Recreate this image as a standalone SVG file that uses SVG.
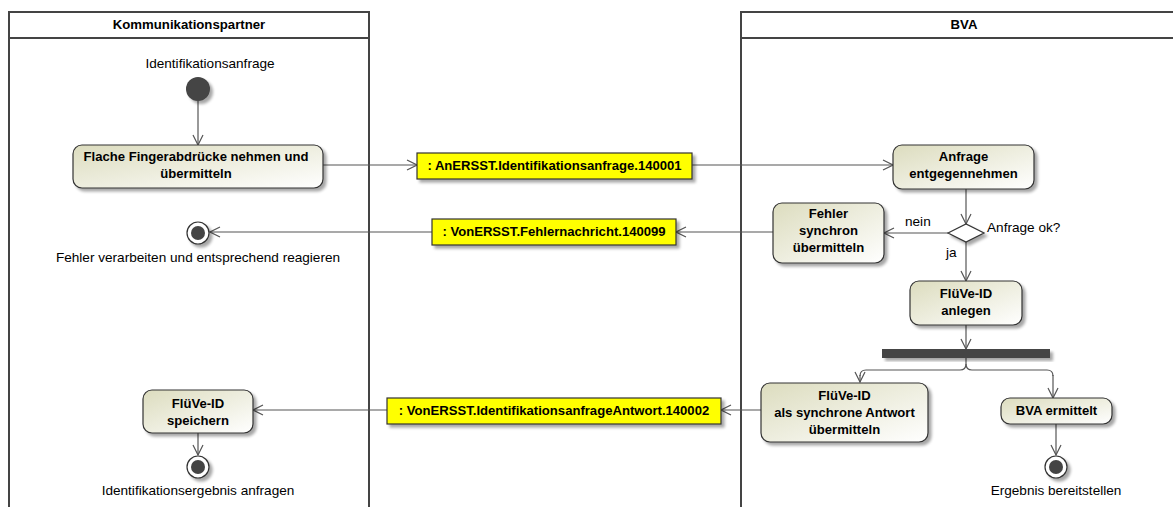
<svg xmlns="http://www.w3.org/2000/svg" width="1173" height="507" viewBox="0 0 1173 507">
<style>
.lane{fill:none;stroke:#444;stroke-width:2}
.hdr{font-family:"Liberation Sans",Arial,sans-serif;font-size:13.2px;font-weight:bold;fill:#000;text-anchor:middle}
.act{fill:url(#g);stroke:#333;stroke-width:1.2;filter:url(#sh)}
.at{font-family:"Liberation Sans",Arial,sans-serif;font-size:13.1px;font-weight:bold;fill:#000;text-anchor:middle}
.obj{fill:#FFFF00;stroke:#333;stroke-width:1.2;filter:url(#sh)}
.lbl{font-family:"Liberation Sans",Arial,sans-serif;font-size:13.6px;fill:#000}
.c{fill:none;stroke:#555;stroke-width:1.2}
.ca{fill:none;stroke:#555;stroke-width:1.2;marker-end:url(#ah)}
</style>
<defs>
<linearGradient id="g" x1="0" y1="0" x2="1" y2="1">
<stop offset="0" stop-color="#DCDCBE"/>
<stop offset="1" stop-color="#FFFFFF"/>
</linearGradient>
<filter id="sh" x="-20%" y="-20%" width="150%" height="160%">
<feGaussianBlur in="SourceAlpha" stdDeviation="1.5"/>
<feOffset dx="3" dy="3" result="b"/>
<feComponentTransfer><feFuncA type="linear" slope="0.35"/></feComponentTransfer>
<feMerge><feMergeNode/><feMergeNode in="SourceGraphic"/></feMerge>
</filter>
<marker id="ah" viewBox="0 0 12 12" refX="11" refY="6" markerWidth="12" markerHeight="12" markerUnits="userSpaceOnUse" orient="auto">
<path d="M1,1 L11,6 L1,11" fill="none" stroke="#555" stroke-width="1.2"/>
</marker>
</defs>

<g id="lane-kommunikationspartner">
<path class="lane" d="M9,507 L9,12 L369,12 L369,507"/>
<line class="lane" x1="9" y1="38" x2="369" y2="38"/>
<text class="hdr" x="189" y="29">Kommunikationspartner</text>
</g>
<g id="lane-bva">
<path class="lane" d="M741,507 L741,12 L1175,12"/>
<line class="lane" x1="741" y1="38" x2="1175" y2="38"/>
<text class="hdr" x="964" y="29">BVA</text>
</g>

<g id="connectors">
<line class="ca" x1="198" y1="101" x2="198" y2="145"/>
<line class="ca" x1="323" y1="165" x2="417" y2="165"/>
<line class="ca" x1="692" y1="165" x2="893" y2="165"/>
<line class="ca" x1="966" y1="189" x2="966" y2="224"/>
<line class="ca" x1="948" y1="233" x2="884" y2="233"/>
<line class="ca" x1="773" y1="232" x2="676" y2="232"/>
<line class="ca" x1="432" y1="232" x2="210" y2="232"/>
<line class="ca" x1="966" y1="242" x2="966" y2="281"/>
<line class="ca" x1="966" y1="325" x2="966" y2="349"/>
<path class="c" d="M966,358 L966,364 Q966,370 960,370 L866,370 Q860,370 860,376"/>
<path class="ca" d="M860,375 L860,382"/>
<path class="c" d="M966,364 Q966,370 972,370 L1047,370 Q1053,370 1053,376"/>
<path class="ca" d="M1053,375 L1053,398"/>
<line class="ca" x1="761" y1="410" x2="721" y2="410"/>
<line class="ca" x1="387" y1="410" x2="253" y2="410"/>
<line class="ca" x1="198" y1="433" x2="198" y2="455"/>
<line class="ca" x1="1056" y1="424" x2="1056" y2="455"/>
</g>

<g id="start">
<circle cx="198" cy="89" r="12" fill="#444" filter="url(#sh)"/>
<text class="lbl" x="210" y="68" text-anchor="middle">Identifikationsanfrage</text>
</g>

<g id="flache">
<rect class="act" x="73" y="145" width="250" height="43" rx="9"/>
<text class="at" x="196" y="161">Flache Fingerabdrücke nehmen und</text>
<text class="at" x="196" y="178">übermitteln</text>
</g>

<g id="obj-anfrage">
<rect class="obj" x="417" y="153" width="275" height="26"/>
<text class="at" x="554.5" y="170">: AnERSST.Identifikationsanfrage.140001</text>
</g>

<g id="anfrage-entgegennehmen">
<rect class="act" x="893" y="145" width="141" height="44" rx="9"/>
<text class="at" x="963.5" y="161">Anfrage</text>
<text class="at" x="963.5" y="178">entgegennehmen</text>
</g>

<g id="decision">
<path d="M948,233 L966,224 L984,233 L966,242 Z" fill="#fff" stroke="#333" stroke-width="1.2" filter="url(#sh)"/>
<text class="lbl" x="987" y="232">Anfrage ok?</text>
<text class="lbl" x="905" y="226">nein</text>
<text class="lbl" x="946" y="257">ja</text>
</g>

<g id="fehler-synchron">
<rect class="act" x="773" y="203" width="111" height="60" rx="9"/>
<text class="at" x="828.5" y="218">Fehler</text>
<text class="at" x="828.5" y="235">synchron</text>
<text class="at" x="828.5" y="252">übermitteln</text>
</g>

<g id="obj-fehler">
<rect class="obj" x="432" y="219" width="244" height="26"/>
<text class="at" x="554" y="236">: VonERSST.Fehlernachricht.140099</text>
</g>

<g id="end-fehler">
<circle cx="198" cy="233" r="11" fill="#fff" stroke="#333" stroke-width="1.2" filter="url(#sh)"/>
<circle cx="198" cy="233" r="7" fill="#444"/>
<text class="lbl" x="198" y="262" text-anchor="middle">Fehler verarbeiten und entsprechend reagieren</text>
</g>

<g id="fluve-anlegen">
<rect class="act" x="910" y="281" width="112" height="44" rx="9"/>
<text class="at" x="966" y="298">FlüVe-ID</text>
<text class="at" x="966" y="315">anlegen</text>
</g>

<g id="fork">
<rect x="882" y="349" width="168" height="9" fill="#444" filter="url(#sh)"/>
</g>

<g id="fluve-antwort">
<rect class="act" x="761" y="383" width="167" height="59" rx="9"/>
<text class="at" x="844.5" y="400">FlüVe-ID</text>
<text class="at" x="844.5" y="417">als synchrone Antwort</text>
<text class="at" x="844.5" y="434">übermitteln</text>
</g>

<g id="bva-ermittelt">
<rect class="act" x="1001" y="398" width="111" height="26" rx="9"/>
<text class="at" x="1056.5" y="415">BVA ermittelt</text>
</g>

<g id="end-ergebnis">
<circle cx="1056" cy="467" r="11" fill="#fff" stroke="#333" stroke-width="1.2" filter="url(#sh)"/>
<circle cx="1056" cy="467" r="7" fill="#444"/>
<text class="lbl" x="1056" y="495" text-anchor="middle">Ergebnis bereitstellen</text>
</g>

<g id="obj-antwort">
<rect class="obj" x="387" y="398" width="334" height="26"/>
<text class="at" x="554" y="415">: VonERSST.IdentifikationsanfrageAntwort.140002</text>
</g>

<g id="fluve-speichern">
<rect class="act" x="143" y="390" width="110" height="43" rx="9"/>
<text class="at" x="198" y="408">FlüVe-ID</text>
<text class="at" x="198" y="425">speichern</text>
</g>

<g id="end-identifikation">
<circle cx="198" cy="467" r="11" fill="#fff" stroke="#333" stroke-width="1.2" filter="url(#sh)"/>
<circle cx="198" cy="467" r="7" fill="#444"/>
<text class="lbl" x="198" y="495" text-anchor="middle">Identifikationsergebnis anfragen</text>
</g>
</svg>
